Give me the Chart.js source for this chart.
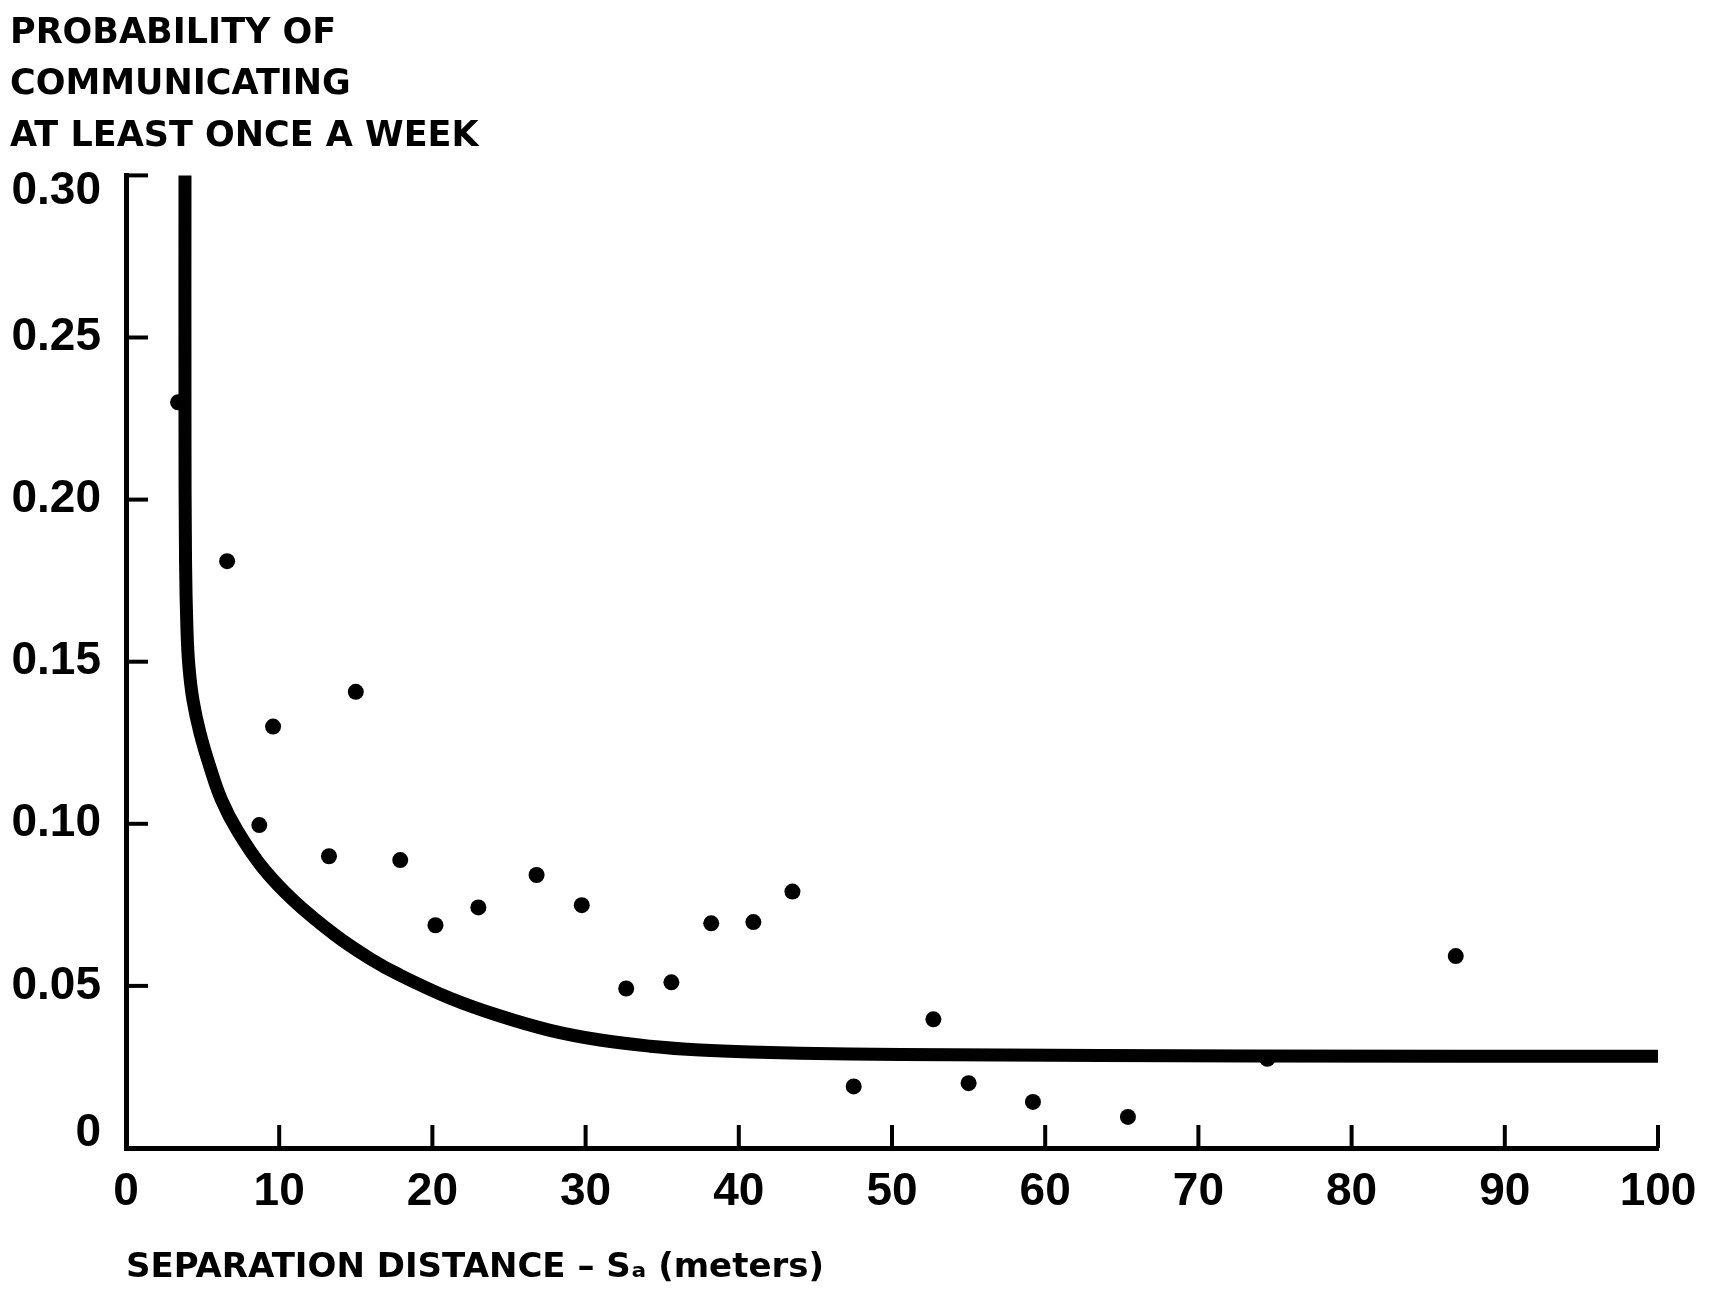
<!DOCTYPE html>
<html>
<head>
<meta charset="utf-8">
<script src="https://cdn.jsdelivr.net/npm/chart.js@4.4.1/dist/chart.umd.min.js"></script>
<style>
  html, body { margin: 0; padding: 0; background: #ffffff; }
  #wrap { width: 1719px; height: 1307px; position: relative; }
</style>
</head>
<body>
<div id="wrap"><canvas id="chart" width="1719" height="1307"></canvas></div>
<script>
// ---- Data ----
const titleLines = ['PROBABILITY OF', 'COMMUNICATING', 'AT LEAST ONCE A WEEK'];
const xAxisTitle = 'SEPARATION DISTANCE \u2013 S\u2090 (meters)';
const yTickLabels = ['0', '0.05', '0.10', '0.15', '0.20', '0.25', '0.30'];

// observed points (separation distance in meters, probability)
const pointX = [3.4, 6.6, 9.6, 8.7, 15.0, 13.25, 17.9, 20.2, 23.0, 26.8, 29.75, 32.65, 35.6, 38.2, 40.95, 43.5, 47.5, 52.7, 55.0, 59.2, 65.4, 74.5, 86.8];
const pointY = [0.230, 0.181, 0.130, 0.0996, 0.1407, 0.090, 0.0888, 0.0687, 0.0742, 0.0842, 0.0749, 0.0492, 0.0511, 0.0693, 0.0697, 0.0791, 0.019, 0.0397, 0.020, 0.0142, 0.0096, 0.0275, 0.0592];

// fitted curve
const curveX = [3.85, 3.85, 3.885, 3.98, 4.11, 4.37, 4.83, 5.48, 6.24, 7.28, 8.88, 10.90, 13.65, 15.94, 17.89, 21.16, 24.42, 27.68, 30.95, 34.21, 37.48, 40.74, 47.27, 53.80, 73.39, 100];
const curveY = [0.300, 0.2245, 0.1814, 0.1598, 0.1484, 0.1382, 0.1280, 0.1175, 0.1073, 0.0978, 0.0867, 0.0765, 0.0657, 0.0584, 0.0533, 0.0462, 0.0407, 0.0363, 0.0333, 0.0314, 0.0302, 0.0296, 0.0290, 0.0288, 0.0284, 0.0283];

const points = pointX.map((x, i) => ({ x: x, y: pointY[i] }));
const curve = curveX.map((x, i) => ({ x: x, y: curveY[i] }));

// inward tick marks, positioned through the chart's own scales
const innerTicks = {
  id: 'innerTicks',
  afterDraw(chart) {
    const { ctx, chartArea, scales } = chart;
    ctx.save();
    ctx.strokeStyle = '#000';
    ctx.lineWidth = 4;
    scales.y.ticks.forEach((t, i) => {
      if (i === 0) return;
      const py = scales.y.getPixelForValue(t.value);
      ctx.beginPath();
      ctx.moveTo(chartArea.left, py);
      ctx.lineTo(chartArea.left + 22, py);
      ctx.stroke();
    });
    scales.x.ticks.forEach((t, i) => {
      if (i === 0) return;
      const px = scales.x.getPixelForValue(t.value);
      ctx.beginPath();
      ctx.moveTo(px, chartArea.bottom);
      ctx.lineTo(px, chartArea.bottom - 23);
      ctx.stroke();
    });
    ctx.restore();
  }
};

new Chart(document.getElementById('chart'), {
  type: 'scatter',
  data: {
    datasets: [
      {
        type: 'line',
        data: curve,
        borderColor: '#000',
        borderWidth: 13,
        pointRadius: 0,
        fill: false,
        tension: 0.4,
        borderCapStyle: 'round',
        borderJoinStyle: 'round',
        order: 0
      },
      {
        type: 'scatter',
        data: points,
        backgroundColor: '#000',
        borderColor: '#000',
        borderWidth: 0,
        pointRadius: 8,
        pointHoverRadius: 8,
        order: 1
      }
    ]
  },
  options: {
    responsive: false,
    animation: false,
    events: [],
    layout: { padding: { left: 10, right: 61, top: 0, bottom: 0 } },
    plugins: {
      legend: { display: false },
      tooltip: { enabled: false },
      title: {
        display: true,
        text: titleLines,
        align: 'start',
        color: '#000',
        font: { family: 'DejaVu Sans', weight: 'bold', size: 35, lineHeight: 1.4714 },
        padding: { top: 7.75, bottom: 13.15 }
      }
    },
    scales: {
      x: {
        type: 'linear',
        min: 0,
        max: 100,
        afterFit(s) { s.height = 159; },
        grid: { display: false, drawTicks: false },
        border: { display: true, width: 5, color: '#000' },
        ticks: {
          stepSize: 10,
          autoSkip: false,
          maxRotation: 0,
          color: '#000',
          padding: 17,
          font: { family: 'Liberation Sans', weight: 'bold', size: 46 }
        },
        title: {
          display: true,
          text: xAxisTitle,
          align: 'start',
          color: '#000',
          font: { family: 'DejaVu Sans', weight: 'bold', size: 34 },
          padding: { top: 0, bottom: 18.6 }
        }
      },
      y: {
        type: 'linear',
        min: 0,
        max: 0.30,
        afterFit(s) { s.width = 116; },
        grid: { display: false, drawTicks: false },
        border: { display: true, width: 5, color: '#000' },
        ticks: {
          stepSize: 0.05,
          color: '#000',
          padding: 25,
          font: (c) => ({
            family: 'Liberation Sans',
            weight: 'bold',
            size: 46,
            lineHeight: c.index === 6 ? '32px' : (c.index === 0 ? '30px' : 1.2)
          }),
          callback: (v, i) => {
            const lab = yTickLabels[i];
            if (i === yTickLabels.length - 1) return ['', lab];
            if (i === 0) return [lab, ''];
            return lab;
          }
        }
      }
    }
  },
  plugins: [innerTicks]
});
</script>
</body>
</html>
